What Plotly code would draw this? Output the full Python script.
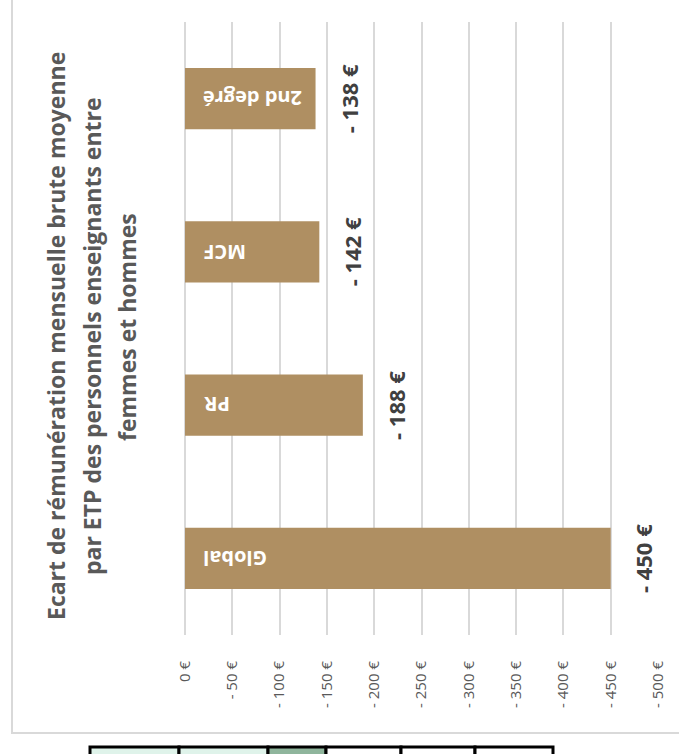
import plotly.graph_objects as go

# Data (bottom to top in the chart)
categories = ["Global", "PR", "MCF", "2nd degré"]
ecarts = [-450, -188, -142, -138]
tick_values = [0, -50, -100, -150, -200, -250, -300, -350, -400, -450, -500]
tick_labels = ["0 €", "- 50 €", "- 100 €", "- 150 €", "- 200 €", "- 250 €",
               "- 300 €", "- 350 €", "- 400 €", "- 450 €", "- 500 €"]
title_lines = [
    "Ecart de rémunération mensuelle brute moyenne",
    "par ETP des personnels enseignants entre",
    "femmes et hommes",
]

W, H = 679, 754
FONT = "Open Sans"
GREY = "#d9d9d9"


def px(x):
    return x / W


def py(y):
    return 1 - y / H


fig = go.Figure()

fig.add_trace(go.Bar(
    x=ecarts,
    y=categories,
    orientation="h",
    marker=dict(color="#af8f62", line=dict(width=0)),
    width=0.4,
    hoverinfo="skip",
))

annotations = []

# labels inside the bars, upside down
for cat in categories:
    annotations.append(dict(
        x=0, y=cat, xref="x", yref="y",
        text=f"<b>{cat}</b>", showarrow=False,
        textangle=180, xanchor="left", yanchor="middle", xshift=16,
        font=dict(family=FONT, size=20, color="white"),
    ))

# value labels after the bars
for cat, val in zip(categories, ecarts):
    annotations.append(dict(
        x=val, y=cat, xref="x", yref="y",
        text=f"<b>- {abs(val)} €</b>", showarrow=False,
        textangle=-90, xanchor="center", yanchor="middle", xshift=33,
        font=dict(family=FONT, size=22, color="#404040"),
    ))

# rotated title, one annotation per line
title_pos = [(56, 336), (92, 336), (127, 327)]
for line, (tx, ty) in zip(title_lines, title_pos):
    annotations.append(dict(
        x=px(tx), y=py(ty), xref="paper", yref="paper",
        text=f"<b>{line}</b>", showarrow=False,
        textangle=-90, xanchor="center", yanchor="middle",
        font=dict(family=FONT, size=23, color="#595959"),
    ))

shapes = [
    # chart frame
    dict(type="rect", xref="paper", yref="paper",
         x0=px(12), x1=px(W + 20), y0=py(733), y1=py(-20),
         line=dict(color=GREY, width=2), layer="below"),
]

# partially visible table under the chart
cell_edges = [90, 179, 268, 326, 401, 475, 553]
cell_fills = ["#dff3ea", "#dff3ea", "#8fb59c", "white", "white", "white"]
for i, fill in enumerate(cell_fills):
    shapes.append(dict(
        type="rect", xref="paper", yref="paper",
        x0=px(cell_edges[i]), x1=px(cell_edges[i + 1]),
        y0=py(H + 10), y1=py(747),
        fillcolor=fill, line=dict(color="black", width=3),
    ))

fig.update_layout(
    template="none",
    width=W, height=H,
    margin=dict(l=0, r=0, t=0, b=0, pad=0, autoexpand=False),
    paper_bgcolor="white",
    plot_bgcolor="white",
    showlegend=False,
    bargap=0.6,
    annotations=annotations,
    shapes=shapes,
    font=dict(family=FONT),
)

fig.update_xaxes(
    domain=[px(185), px(658)],
    range=[0, -500],
    automargin=False,
    tickvals=tick_values,
    ticktext=tick_labels,
    tickangle=-90,
    tickfont=dict(family=FONT, size=15, color="#595959"),
    showgrid=True, gridcolor=GREY, gridwidth=2,
    zeroline=True, zerolinecolor=GREY, zerolinewidth=2,
    showline=False,
    ticks="", ticklabelstandoff=22,
)

fig.update_yaxes(
    domain=[py(635), py(22)],
    automargin=False,
    categoryorder="array", categoryarray=categories,
    showticklabels=False, showgrid=False, zeroline=False, showline=False,
    ticks="",
)

# drop the default body margin so the figure sits at the window's corner
fig.write_html(
    "out.html",
    config={"displayModeBar": False},
    post_script="document.body.style.margin = '0';",
)
